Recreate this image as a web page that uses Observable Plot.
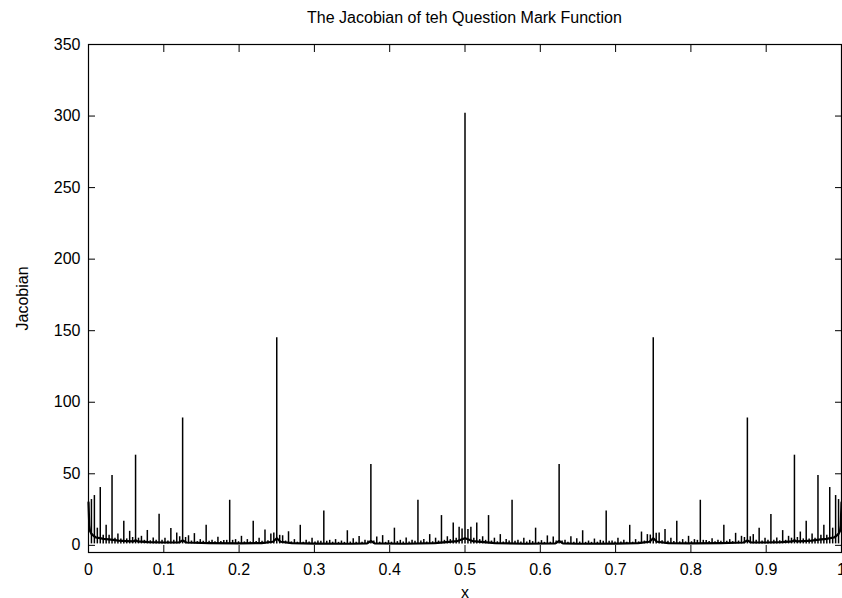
<!DOCTYPE html>
<html><head><meta charset="utf-8">
<script src="https://cdn.jsdelivr.net/npm/d3@7"></script>
<script src="https://cdn.jsdelivr.net/npm/@observablehq/plot@0.6"></script>
<style>
body{margin:0;background:#fff;font-family:"Liberation Sans",Arial,sans-serif;}
#wrap{position:relative;width:842px;height:598px;overflow:hidden;}
#title{position:absolute;left:88px;width:753px;top:9px;text-align:center;font-size:16px;color:#000;line-height:18px;}
</style></head><body>
<div id="wrap"><div id="title">The Jacobian of teh Question Mark Function</div></div>
<script>
// Spike heights at odd multiples of 1/2^n
const level1 = [302];                       // 1/2
const level2 = [145, 145];                  // 1/4, 3/4
const level3 = [89, 56.5, 56.5, 89];        // k/8
const level4 = [63, 31.5, 24, 31.5, 31.5, 24, 31.5, 63]; // k/16
const level5 = [48.8, 21.7, 14, 16.8, 14, 10.2, 12, 20.8, 20.8, 12, 10.2, 14, 16.8, 14, 21.6, 48.8]; // k/32
const level6 = [40.4, 16.8, 10.4, 11.8, 8.2, 5.7, 6.3, 10.8, 9.5, 4.9, 4, 6.2, 6.8, 5.2, 7.5, 15.6,
                15.6, 7.5, 5, 6.6, 6, 4.4, 5, 9.3, 11, 6.3, 4.6, 8.4, 12, 10.3, 16.8, 40.4]; // k/64
const level7 = [34.8, 14, 8, 9.8, 6.3, 5.1, 5, 8.6, 6.7, 4, 3.5, 3.3, 4, 4, 5, 8,
                6.7, 4, 3.5, 3, 3.5, 3, 4.6, 3.5, 5.9, 3.3, 3.5, 3.5, 4, 5, 6, 12.6,
                12.6, 6, 5, 4, 3.5, 3.5, 3.3, 5.9, 3.5, 4.6, 3, 3.5, 3, 3.5, 4, 7.5,
                8.6, 5, 4, 4, 3.3, 3.5, 4, 6.3, 7.5, 5, 5.1, 6.3, 9.3, 8, 14, 34.8]; // k/128
const level8 = [32, 12, 7, 7, 5, 4.5, 4.5, 5.5, 5, 3.5, 3.2, 3.5, 3.5, 3, 3.5, 6,
                5.5, 3, 2.6, 2.8, 2.8, 2.5, 2.6, 3.5, 3.5, 2.5, 2.4, 2.4, 2.6, 2.8, 3.2, 8.6,
                7, 3, 2.4, 2.2, 2.2, 2.3, 2.4, 2.8, 2.8, 2.2, 2.1, 2.1, 2.3, 2.2, 2.2, 3,
                3, 2.2, 2.1, 2.2, 2.6, 2.3, 2.3, 2.8, 3, 2.4, 2.5, 3, 3.5, 4, 5, 11.4,
                11, 5, 4, 3.5, 3, 2.5, 2.4, 3, 2.8, 2.3, 2.3, 2.6, 2.2, 2.1, 2.2, 3,
                3, 2.2, 2.2, 2.3, 2.1, 2.1, 2.2, 2.8, 2.8, 2.4, 2.3, 2.2, 2.2, 2.4, 3, 7.2,
                8.4, 3.2, 2.8, 2.6, 2.4, 2.4, 2.5, 3.5, 3.5, 2.6, 2.5, 2.8, 2.8, 2.6, 3, 5.5,
                6, 3.5, 3, 3.5, 3.5, 3.2, 3.5, 5, 5.5, 4.5, 4.5, 5, 7, 7, 12, 32]; // k/256

// Background level of the curve between spikes
const baseX = [0, 0.001, 0.002, 0.004, 0.007, 0.01, 0.015, 0.02, 0.03, 0.04, 0.05, 0.06, 0.0625, 0.065,
               0.08, 0.1, 0.12, 0.125, 0.13, 0.16, 0.2, 0.23, 0.245, 0.25, 0.255, 0.27, 0.3, 0.35, 0.37,
               0.375, 0.38, 0.42, 0.46, 0.49, 0.5, 0.51, 0.54, 0.58, 0.62, 0.625, 0.63, 0.65, 0.7, 0.73,
               0.745, 0.75, 0.755, 0.77, 0.8, 0.84, 0.87, 0.875, 0.88, 0.9, 0.92, 0.935, 0.9375, 0.94,
               0.95, 0.96, 0.97, 0.98, 0.985, 0.99, 0.993, 0.996, 0.998, 0.999, 1];
const baseY = [30, 14, 10, 8, 6.5, 5.5, 5, 4.5, 4, 3.3, 3, 2.8, 3.5, 2.8,
               2.3, 2, 2, 3.5, 2, 1.6, 1.4, 1.6, 2.5, 5, 2.5, 1.6, 1.2, 1.1, 1.4,
               3, 1.4, 1.1, 1.6, 3, 5, 3, 1.6, 1.1, 1.4, 3, 1.4, 1.1, 1.2, 1.6,
               2.5, 5, 2.5, 1.6, 1.4, 1.6, 2, 3.5, 2, 2, 2.3, 2.8, 3.5, 2.8,
               3, 3.3, 4, 4.5, 5, 5.5, 6.5, 8, 10, 14, 30];

const xTicks = [0, 0.1, 0.2, 0.3, 0.4, 0.5, 0.6, 0.7, 0.8, 0.9, 1];
const xTickLabels = ["0", "0.1", "0.2", "0.3", "0.4", "0.5", "0.6", "0.7", "0.8", "0.9", "1"];
const yTicks = [0, 50, 100, 150, 200, 250, 300, 350];
const yTickLabels = ["0", "50", "100", "150", "200", "250", "300", "350"];

const levels = [[2, level1], [4, level2], [8, level3], [16, level4], [32, level5], [64, level6], [128, level7], [256, level8]];
const spikes = [];
for (const [den, vals] of levels) vals.forEach((v, i) => spikes.push({x: (2 * i + 1) / den, v}));
const baseline = baseX.map((x, i) => ({x, y: baseY[i]}));

const chart = Plot.plot({
  width: 842, height: 598,
  marginLeft: 88, marginRight: 1, marginTop: 44, marginBottom: 46,
  style: {fontFamily: "'Liberation Sans', Arial, sans-serif", fontSize: "16px", background: "white", color: "black"},
  x: {domain: [0, 1]},
  y: {domain: [-5, 350]},
  marks: [
    Plot.line(baseline, {x: "x", y: "y", stroke: "black", strokeWidth: 2.2}),
    Plot.ruleX(spikes, {x: "x", y1: 1, y2: "v", stroke: "black", strokeWidth: 1.5}),
    Plot.frame({stroke: "black", strokeWidth: 1.2}),
    Plot.axisX({ticks: xTicks, tickFormat: d => xTickLabels[xTicks.indexOf(d)], tickSize: 0, tickPadding: 11,
                label: "x", labelAnchor: "center", labelArrow: "none", labelOffset: 45}),
    Plot.axisX({ticks: xTicks, tickSize: -7, tickFormat: () => "", label: null}),
    Plot.axisX({anchor: "top", ticks: xTicks, tickSize: -7, tickFormat: () => "", label: null}),
    Plot.axisY({ticks: yTicks, tickFormat: d => yTickLabels[yTicks.indexOf(d)], tickSize: 0, tickPadding: 8,
                label: "Jacobian", labelAnchor: "center", labelArrow: "none", labelOffset: 72}),
    Plot.axisY({ticks: yTicks, tickSize: -7, tickFormat: () => "", label: null}),
    Plot.axisY({anchor: "right", ticks: yTicks, tickSize: -7, tickFormat: () => "", label: null})
  ]
});
document.getElementById("wrap").appendChild(chart);
</script>
</body></html>
